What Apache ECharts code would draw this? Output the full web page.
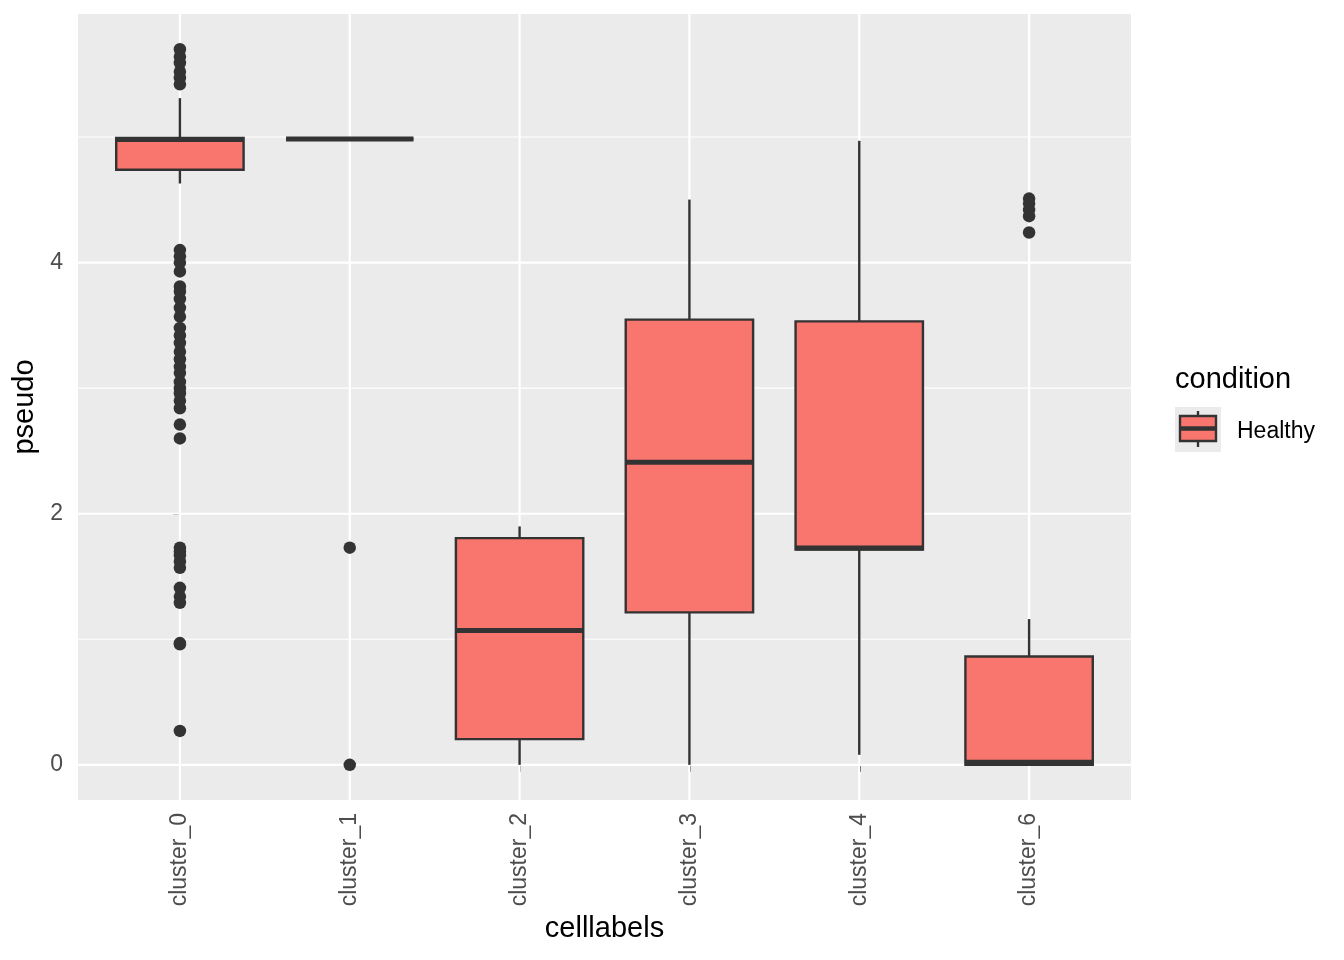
<!DOCTYPE html>
<html>
<head>
<meta charset="utf-8">
<script src="https://cdn.jsdelivr.net/npm/echarts@6/dist/echarts.min.js"></script>
<style>
html,body{margin:0;padding:0;background:#fff;}
#chart{width:1344px;height:960px;}
</style>
</head>
<body>
<div id="chart"></div>
<script>
// ---- data ----
var categories = ['cluster_0', 'cluster_1', 'cluster_2', 'cluster_3', 'cluster_4', 'cluster_6'];
var whiskerLow  = [4.63, 4.985, 0.00, 0.00, 0.08, 0.00];
var q1          = [4.74, 4.985, 0.205, 1.214, 1.715, 0.00];
var median      = [4.98, 4.985, 1.07, 2.409, 1.727, 0.02];
var q3          = [4.992, 4.985, 1.806, 3.546, 3.532, 0.863];
var whiskerHigh = [5.31, 4.985, 1.899, 4.502, 4.97, 1.161];
var outliers0 = [5.70, 5.64, 5.59, 5.52, 5.47, 5.42,
  4.10, 4.05, 4.00, 3.93, 3.81, 3.77, 3.71, 3.64, 3.57, 3.48, 3.42, 3.36, 3.29, 3.23, 3.17,
  3.12, 3.05, 3.00, 2.96, 2.90, 2.84, 2.71, 2.60,
  1.73, 1.70, 1.67, 1.62, 1.57, 1.41, 1.34, 1.29, 0.97, 0.96, 0.27];
var outliers1 = [1.73, 0.00];
var outliers2 = [];
var outliers3 = [];
var outliers4 = [];
var outliers6 = [4.51, 4.47, 4.42, 4.37, 4.24];
var yTicks = [0, 2, 4];
var yGridMajor = [0, 2, 4];
var yGridMinor = [1, 3, 5];
var legendTitle = 'condition';
var legendLabel = 'Healthy';

// ---- build ----
var catIdx = categories.map(function (c, i) { return i; });
var outlierLists = [outliers0, outliers1, outliers2, outliers3, outliers4, outliers6];
var outlierData = [];
outlierLists.forEach(function (arr, i) {
  arr.forEach(function (v) { outlierData.push([i, v]); });
});
var boxData = categories.map(function (c, i) {
  return [i, whiskerLow[i], q1[i], median[i], q3[i], whiskerHigh[i]];
});
var FONT = 'Liberation Sans';
var DARK = '#333333';
var FILL = '#F8766D';

var chart = echarts.init(document.getElementById('chart'));
chart.setOption({
  animation: false,
  backgroundColor: '#ffffff',
  grid: { left: 78, right: 213, top: 14, bottom: 160, show: true, backgroundColor: '#EBEBEB', borderWidth: 0 },
  xAxis: {
    type: 'value',
    min: -0.6,
    max: catIdx.length - 1 + 0.6,
    axisLine: { show: false },
    axisTick: { show: true, customValues: catIdx, length: 7, lineStyle: { color: DARK, width: 2 } },
    axisLabel: {
      customValues: catIdx, rotate: 90, margin: 13, color: '#4D4D4D', fontSize: 23, fontFamily: FONT,
      formatter: function (v) { return categories[Math.round(v)]; }
    },
    splitLine: { show: false },
    name: 'celllabels',
    nameLocation: 'middle',
    nameGap: 113,
    nameTextStyle: { color: '#000', fontSize: 29, fontFamily: FONT }
  },
  yAxis: {
    type: 'value',
    min: -0.28,
    max: 5.98,
    axisLine: { show: false },
    axisTick: { show: true, customValues: yTicks, length: 7, lineStyle: { color: DARK, width: 2 } },
    axisLabel: { customValues: yTicks, margin: 15, color: '#4D4D4D', fontSize: 23, fontFamily: FONT },
    splitLine: { show: false },
    name: 'pseudo',
    nameLocation: 'middle',
    nameGap: 36,
    nameTextStyle: { color: '#000', fontSize: 29, fontFamily: FONT }
  },
  series: [
    {
      type: 'custom',
      silent: true,
      z: 1,
      data: yGridMinor.map(function (v) { return [0, v]; }),
      renderItem: function (params, api) {
        var cs = params.coordSys;
        var y = api.coord([0, api.value(1)])[1];
        return { type: 'line', shape: { x1: cs.x, y1: y, x2: cs.x + cs.width, y2: y }, style: { stroke: '#ffffff', lineWidth: 1.1 } };
      }
    },
    {
      type: 'custom',
      silent: true,
      z: 1,
      data: yGridMajor.map(function (v) { return [0, v]; }),
      renderItem: function (params, api) {
        var cs = params.coordSys;
        var y = api.coord([0, api.value(1)])[1];
        return { type: 'line', shape: { x1: cs.x, y1: y, x2: cs.x + cs.width, y2: y }, style: { stroke: '#ffffff', lineWidth: 2.2 } };
      }
    },
    {
      type: 'custom',
      silent: true,
      z: 1,
      data: catIdx.map(function (i) { return [i, 0]; }),
      renderItem: function (params, api) {
        var cs = params.coordSys;
        var x = api.coord([api.value(0), 0])[0];
        return { type: 'line', shape: { x1: x, y1: cs.y, x2: x, y2: cs.y + cs.height }, style: { stroke: '#ffffff', lineWidth: 2.2 } };
      }
    },
    {
      type: 'custom',
      z: 3,
      data: boxData,
      renderItem: function (params, api) {
        var i = api.value(0);
        var pLow = api.coord([i, api.value(1)]);
        var pQ1 = api.coord([i, api.value(2)]);
        var pMed = api.coord([i, api.value(3)]);
        var pQ3 = api.coord([i, api.value(4)]);
        var pHigh = api.coord([i, api.value(5)]);
        var w = api.size([1, 0])[0] * 0.75;
        var cx = pMed[0];
        var x0 = cx - w / 2;
        return {
          type: 'group',
          children: [
            { type: 'line', shape: { x1: cx, y1: pQ3[1], x2: cx, y2: pHigh[1] }, style: { stroke: DARK, lineWidth: 2.4 } },
            { type: 'line', shape: { x1: cx, y1: pQ1[1], x2: cx, y2: pLow[1] }, style: { stroke: DARK, lineWidth: 2.4 } },
            { type: 'rect', shape: { x: x0, y: pQ3[1], width: w, height: pQ1[1] - pQ3[1] }, style: { fill: FILL, stroke: DARK, lineWidth: 2.4 } },
            { type: 'line', shape: { x1: x0, y1: pMed[1], x2: x0 + w, y2: pMed[1] }, style: { stroke: DARK, lineWidth: 5 } }
          ]
        };
      }
    },
    {
      type: 'scatter',
      z: 4,
      data: outlierData,
      symbol: 'circle',
      symbolSize: 12.5,
      itemStyle: { color: DARK, opacity: 1 },
      silent: true
    }
  ],
  graphic: [
    { type: 'text', left: 1175, top: 365, style: { text: legendTitle, font: '29px "Liberation Sans"', fill: '#000' } },
    { type: 'rect', shape: { x: 1175, y: 407, width: 46, height: 45 }, style: { fill: '#EBEBEB' } },
    { type: 'line', shape: { x1: 1198, y1: 411, x2: 1198, y2: 447 }, style: { stroke: DARK, lineWidth: 2.4 } },
    { type: 'rect', shape: { x: 1180, y: 416, width: 36, height: 25 }, style: { fill: FILL, stroke: DARK, lineWidth: 2.4 } },
    { type: 'line', shape: { x1: 1180, y1: 428.5, x2: 1216, y2: 428.5 }, style: { stroke: DARK, lineWidth: 4.5 } },
    { type: 'text', left: 1237, top: 420, style: { text: legendLabel, font: '23px "Liberation Sans"', fill: '#000' } }
  ]
});
</script>
</body>
</html>
